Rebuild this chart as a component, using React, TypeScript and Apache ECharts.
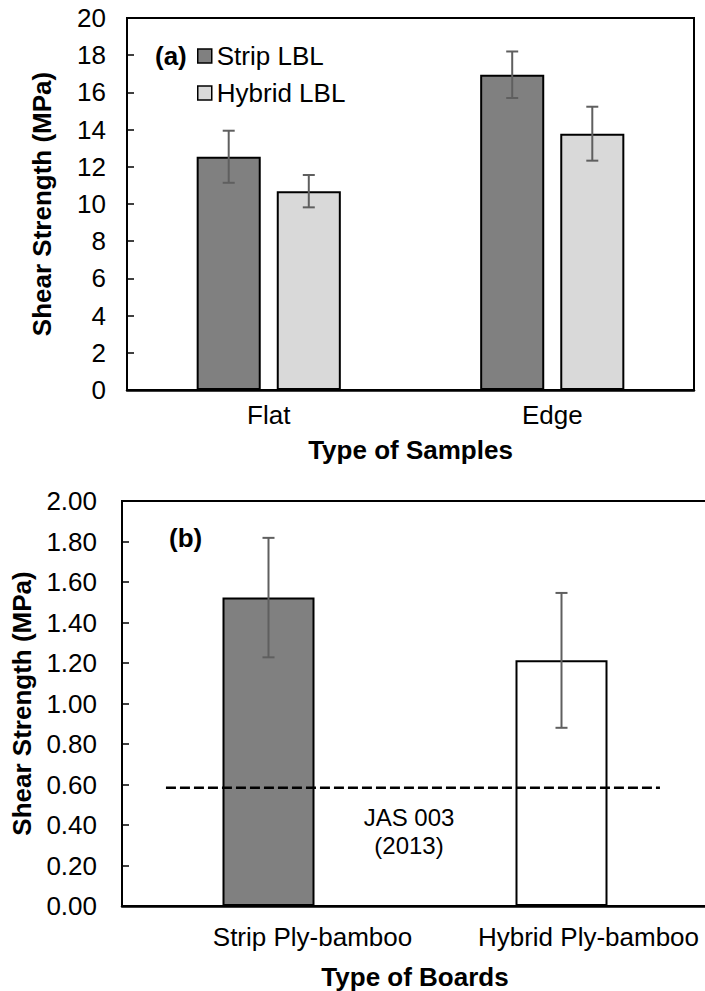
import React, { useEffect, useRef } from "react";
import * as echarts from "echarts";

// ---- Data ----
const catsA = ["Flat", "Edge"];
const stripA = [12.54, 16.95];
const stripAErr = [1.4, 1.25];
const hybridA = [10.69, 13.78];
const hybridAErr = [0.87, 1.45];

const catsB = ["Strip Ply-bamboo", "Hybrid Ply-bamboo"];
const valuesB = [1.523, 1.213];
const errB = [0.295, 0.333];
const colorsB = ["#808080", "#ffffff"];

const jasValue = 0.584;
const jasSpan = [-0.35, 1.336];

const ticksA = { min: 0, max: 20, interval: 2 };
const ticksB = { min: 0, max: 2, interval: 0.2 };

const FONT = "'Liberation Sans', Arial, Helvetica, sans-serif";
const FS = 26;

const BAR_W_A = 0.226;
const BAR_GAP_A = 0.25;
const OFFSET_A = (BAR_W_A * (1 + BAR_GAP_A)) / 2;

function errRender(offsetFrac: number) {
  return (params: any, api: any) => {
    const x = api.value(0);
    const lo = api.value(1);
    const hi = api.value(2);
    const pLo = api.coord([x, lo]);
    const pHi = api.coord([x, hi]);
    const band = api.size([1, 0])[0];
    const cx = pLo[0] + band * offsetFrac;
    const cap = 6;
    const style = { stroke: "#5f5f5f", lineWidth: 2 };
    return {
      type: "group",
      children: [
        { type: "line", shape: { x1: cx, y1: pHi[1], x2: cx, y2: pLo[1] }, style },
        { type: "line", shape: { x1: cx - cap, y1: pHi[1], x2: cx + cap, y2: pHi[1] }, style },
        { type: "line", shape: { x1: cx - cap, y1: pLo[1], x2: cx + cap, y2: pLo[1] }, style },
      ],
    };
  };
}

export default function App() {
  const ref = useRef<HTMLDivElement>(null);
  useEffect(() => {
    if (!ref.current) return;
    const chart = echarts.init(ref.current, null, { renderer: "svg" });
    const txt = { fontFamily: FONT, color: "#000" };
    const option: any = {
      animation: false,
      backgroundColor: "#fff",
      textStyle: { fontFamily: FONT },
      grid: [
        { left: 127, top: 18, right: 11, bottom: 601, show: true, borderColor: "#000", borderWidth: 2, containLabel: false, outerBoundsMode: "none" },
        { left: 122, top: 501, right: -3, bottom: 85, show: true, borderColor: "#000", borderWidth: 2, containLabel: false, outerBoundsMode: "none" },
      ],
      legend: {
        orient: "vertical",
        left: 197,
        top: 43,
        padding: 0,
        itemWidth: 14,
        itemHeight: 14,
        itemGap: 11,
        selectedMode: false,
        icon: "rect",
        data: ["Strip LBL", "Hybrid LBL"],
        textStyle: { ...txt, fontSize: FS, lineHeight: 24 },
        itemStyle: { borderColor: "#000", borderWidth: 1.5 },
      },
      xAxis: [
        {
          type: "category",
          gridIndex: 0,
          data: catsA,
          axisLine: { lineStyle: { color: "#000", width: 2.5 } },
          axisTick: { show: false },
          axisLabel: { ...txt, fontSize: FS, margin: 12, interval: 0 },
          name: "Type of Samples",
          nameLocation: "middle",
          nameGap: 47,
          nameTextStyle: { ...txt, fontSize: FS, fontWeight: "bold" },
        },
        {
          type: "category",
          gridIndex: 1,
          data: catsB,
          axisLine: { lineStyle: { color: "#000", width: 2.5 } },
          axisTick: { show: false },
          axisLabel: {
            ...txt,
            fontSize: FS,
            margin: 18,
            interval: 0,
            hideOverlap: false,
            formatter: (v: string, i: number) => (i === 0 ? `{s|${v}}` : `{h|${v}}`),
            rich: {
              s: { fontFamily: FONT, fontSize: FS, color: "#000", padding: [0, 0, 0, 88] },
              h: { fontFamily: FONT, fontSize: FS, color: "#000", padding: [0, 0, 0, 54] },
            },
          },
          name: "Type of Boards",
          nameLocation: "middle",
          nameGap: 58,
          nameTextStyle: { ...txt, fontSize: FS, fontWeight: "bold" },
        },
        {
          type: "value",
          gridIndex: 1,
          min: -0.5,
          max: 1.5,
          show: false,
        },
      ],
      yAxis: [
        {
          type: "value",
          gridIndex: 0,
          min: ticksA.min,
          max: ticksA.max,
          interval: ticksA.interval,
          splitLine: { show: false },
          axisLine: { show: true, onZero: false, lineStyle: { color: "#000", width: 2 } },
          axisTick: { show: true, inside: true, length: 7, lineStyle: { color: "#000", width: 1.5 } },
          axisLabel: { ...txt, fontSize: FS, margin: 21 },
          name: "Shear Strength (MPa)",
          nameLocation: "middle",
          nameGap: 72,
          nameTextStyle: { ...txt, fontSize: FS, fontWeight: "bold" },
        },
        {
          type: "value",
          gridIndex: 1,
          min: ticksB.min,
          max: ticksB.max,
          interval: ticksB.interval,
          splitLine: { show: false },
          axisLine: { show: true, onZero: false, lineStyle: { color: "#000", width: 2 } },
          axisTick: { show: true, inside: true, length: 7, lineStyle: { color: "#000", width: 1.5 } },
          axisLabel: { ...txt, fontSize: FS, margin: 25, formatter: (v: number) => v.toFixed(2) },
          name: "Shear Strength (MPa)",
          nameLocation: "middle",
          nameGap: 82,
          nameTextStyle: { ...txt, fontSize: FS, fontWeight: "bold" },
        },
      ],
      series: [
        {
          name: "Strip LBL",
          type: "bar",
          xAxisIndex: 0,
          yAxisIndex: 0,
          data: stripA,
          barWidth: (BAR_W_A * 100).toFixed(1) + "%",
          barGap: BAR_GAP_A * 100 + "%",
          itemStyle: { color: "#808080", borderColor: "#000", borderWidth: 2 },
        },
        {
          name: "Hybrid LBL",
          type: "bar",
          xAxisIndex: 0,
          yAxisIndex: 0,
          data: hybridA,
          barWidth: (BAR_W_A * 100).toFixed(1) + "%",
          barGap: BAR_GAP_A * 100 + "%",
          itemStyle: { color: "#d9d9d9", borderColor: "#000", borderWidth: 2 },
        },
        {
          name: "Strip LBL err",
          type: "custom",
          xAxisIndex: 0,
          yAxisIndex: 0,
          z: 5,
          renderItem: errRender(-OFFSET_A),
          encode: { x: 0, y: [1, 2] },
          data: stripA.map((v, i) => [i, v - stripAErr[i], v + stripAErr[i]]),
        },
        {
          name: "Hybrid LBL err",
          type: "custom",
          xAxisIndex: 0,
          yAxisIndex: 0,
          z: 5,
          renderItem: errRender(OFFSET_A),
          encode: { x: 0, y: [1, 2] },
          data: hybridA.map((v, i) => [i, v - hybridAErr[i], v + hybridAErr[i]]),
        },
        {
          name: "Boards",
          type: "bar",
          xAxisIndex: 1,
          yAxisIndex: 1,
          barWidth: "31.4%",
          data: valuesB.map((v, i) => ({
            value: v,
            itemStyle: { color: colorsB[i], borderColor: "#000", borderWidth: 2 },
          })),
        },
        {
          name: "Boards err",
          type: "custom",
          xAxisIndex: 1,
          yAxisIndex: 1,
          z: 5,
          renderItem: errRender(0),
          encode: { x: 0, y: [1, 2] },
          data: valuesB.map((v, i) => [i, v - errB[i], v + errB[i]]),
        },
        {
          name: "JAS 003 (2013)",
          type: "line",
          xAxisIndex: 2,
          yAxisIndex: 1,
          z: 6,
          symbol: "none",
          lineStyle: { color: "#000", width: 2.5, type: [10, 4] },
          data: jasSpan.map((x) => [x, jasValue]),
        },
      ],
      graphic: [
        {
          type: "text",
          left: 155,
          top: 43,
          style: { text: "(a)", font: `bold ${FS}px ${FONT}`, fill: "#000" },
        },
        {
          type: "text",
          left: 169,
          top: 525,
          style: { text: "(b)", font: `bold ${FS}px ${FONT}`, fill: "#000" },
        },
        {
          type: "text",
          x: 409,
          y: 831,
          style: {
            text: "JAS 003\n(2013)",
            font: `24px ${FONT}`,
            lineHeight: 28,
            fill: "#000",
            align: "center",
            verticalAlign: "middle",
          },
        },
      ],
    };
    chart.setOption(option);
    return () => chart.dispose();
  }, []);
  return (
    <div
      ref={ref}
      style={{ position: "absolute", left: 0, top: 0, width: 705, height: 991 }}
    />
  );
}
